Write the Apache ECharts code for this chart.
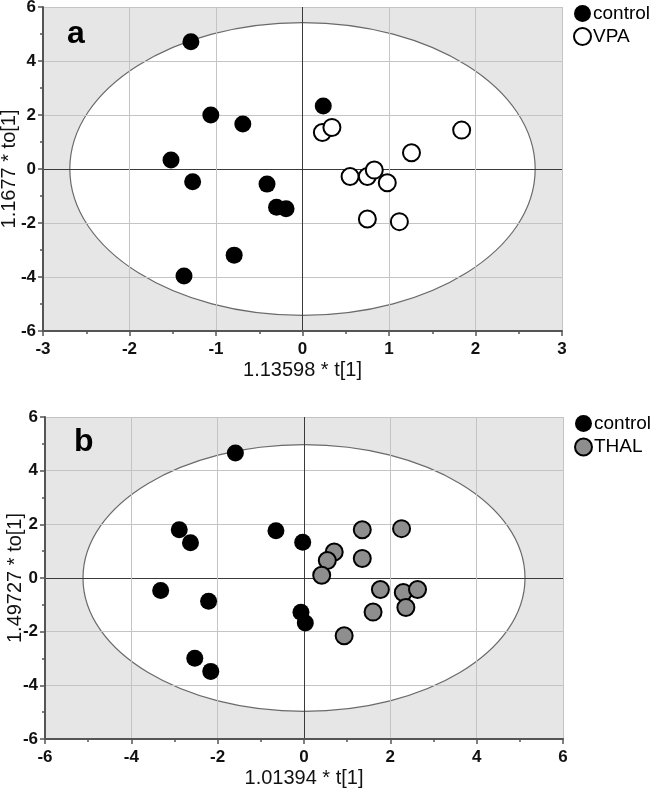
<!DOCTYPE html>
<html>
<head>
<meta charset="utf-8">
<script src="https://cdn.jsdelivr.net/npm/echarts@6/dist/echarts.min.js"></script>
<style>html,body{margin:0;padding:0;background:#fff}#c{width:657px;height:792px}</style>
</head>
<body>
<div id="c"></div>
<script>
// ---- data ----
var controlA = [[-1.29,4.71],[-1.06,2.00],[-0.69,1.67],[-1.52,0.33],[-1.27,-0.47],[-0.41,-0.56],[-0.30,-1.42],[-0.19,-1.47],[-0.79,-3.19],[-1.37,-3.96],[0.24,2.33]];
var vpaA = [[0.23,1.35],[0.34,1.54],[1.84,1.44],[1.26,0.60],[0.55,-0.28],[0.75,-0.28],[0.83,-0.04],[0.98,-0.51],[0.75,-1.85],[1.12,-1.95]];
var controlB = [[-1.59,4.66],[-2.89,1.80],[-2.63,1.31],[-0.65,1.76],[-0.03,1.33],[-3.32,-0.47],[-2.21,-0.87],[-0.07,-1.28],[0.03,-1.68],[-2.53,-2.99],[-2.16,-3.48]];
var thalB = [[1.35,1.80],[2.26,1.84],[0.70,0.97],[0.54,0.65],[1.35,0.73],[0.41,0.10],[1.77,-0.43],[2.30,-0.54],[2.63,-0.43],[1.60,-1.27],[2.36,-1.10],[0.93,-2.15]];
// Hotelling ellipse semi-axes (in axis units)
var ellipseA = [2.69, 5.42];
var ellipseB = [5.12, 4.97];
// axis ranges / ticks
var xTicksA = [-3, 3, 1];
var yTicksA = [-6, 6, 2];
var xTicksB = [-6, 6, 2];
var yTicksB = [-6, 6, 2];
var xNameA = '1.13598 * t[1]', yNameA = '1.1677 * to[1]';
var xNameB = '1.01394 * t[1]', yNameB = '1.49727 * to[1]';

var FONT = '"Liberation Sans", Arial, sans-serif';
function splitColors(t){ // dark line at zero, light elsewhere
  var arr = [];
  for (var v = t[0]; v <= t[1] + 1e-9; v += t[2]) arr.push(Math.abs(v) < 1e-9 ? '#3a3a3a' : '#c4c4c4');
  return arr;
}
function xAxis(idx, t, name, gap){
  return {
    type:'value', gridIndex:idx, min:t[0], max:t[1], interval:t[2],
    name:name, nameLocation:'middle', nameGap:gap, nameMoveOverlap:false,
    nameTextStyle:{fontFamily:FONT, fontSize:20, color:'#111'},
    axisLine:{show:true, onZero:false, lineStyle:{color:'#555', width:2}},
    axisTick:{show:true, length:5, lineStyle:{color:'#555', width:1.5}},
    minorTick:{show:true, splitNumber:2, length:3, lineStyle:{color:'#555', width:1.5}},
    axisLabel:{fontFamily:FONT, fontSize:17, fontWeight:'bold', color:'#111', margin:10},
    splitLine:{show:true, lineStyle:{color:splitColors(t), width:1}}
  };
}
function yAxis(idx, t, name, gap){
  return {
    type:'value', gridIndex:idx, min:t[0], max:t[1], interval:t[2],
    name:name, nameLocation:'middle', nameGap:gap, nameRotate:90, nameMoveOverlap:false,
    nameTextStyle:{fontFamily:FONT, fontSize:20, color:'#111'},
    axisLine:{show:true, onZero:false, lineStyle:{color:'#555', width:2}},
    axisTick:{show:true, length:5, lineStyle:{color:'#555', width:1.5}},
    minorTick:{show:true, splitNumber:2, length:3, lineStyle:{color:'#555', width:1.5}},
    axisLabel:{fontFamily:FONT, fontSize:17, fontWeight:'bold', color:'#111', margin:7},
    splitLine:{show:true, lineStyle:{color:splitColors(t), width:1}}
  };
}
function ellipseSeries(idx, semi){
  return {
    type:'custom', xAxisIndex:idx, yAxisIndex:idx, z:-5, silent:true,
    data:[[0,0]],
    renderItem:function(params, api){
      var cs = params.coordSys;
      var c = api.coord([api.value(0), api.value(1)]);
      var rx = api.size([semi[0], 0])[0];
      var ry = api.size([0, semi[1]])[1];
      return {type:'group', children:[
        {type:'rect', shape:{x:cs.x, y:cs.y, width:cs.width, height:cs.height}, style:{fill:'#e6e6e6'}},
        {type:'ellipse', shape:{cx:c[0], cy:c[1], rx:rx, ry:ry}, style:{fill:'#fff', stroke:'#6a6a6a', lineWidth:1.2}}
      ]};
    }
  };
}
function scatter(idx, name, data, fill){
  return {
    type:'scatter', name:name, xAxisIndex:idx, yAxisIndex:idx, z:3,
    data:data, symbol:'circle', symbolSize:17,
    itemStyle:{color:fill, borderColor:'#000', borderWidth: fill === '#000' ? 0 : 2, opacity:1}
  };
}
var chart = echarts.init(document.getElementById('c'), null, {renderer:'canvas'});
chart.setOption({
  animation:false,
  backgroundColor:'#fff',
  title:[
    {text:'a', left:67, top:18, padding:0, textStyle:{fontFamily:FONT, fontSize:32, fontWeight:'bold', color:'#000'}},
    {text:'b', left:74, top:426, padding:0, textStyle:{fontFamily:FONT, fontSize:32, fontWeight:'bold', color:'#000'}}
  ],
  legend:[
    {orient:'vertical', left:573, top:4, padding:0, itemWidth:17, itemHeight:17, itemGap:4, icon:'circle',
     textStyle:{fontFamily:FONT, fontSize:19, color:'#000', padding:[0,0,0,-3]},
     data:[{name:'control', itemStyle:{color:'#000', borderWidth:0}}, {name:'VPA', itemStyle:{color:'#fff', borderColor:'#000', borderWidth:2}}]},
    {orient:'vertical', left:574, top:414, padding:0, itemWidth:17, itemHeight:17, itemGap:4.5, icon:'circle',
     textStyle:{fontFamily:FONT, fontSize:19, color:'#000', padding:[0,0,0,-3]},
     data:[{name:'control', itemStyle:{color:'#000', borderWidth:0}}, {name:'THAL', itemStyle:{color:'#8e8e8e', borderColor:'#000', borderWidth:2}}]}
  ],
  grid:[
    {left:43, top:7, width:519, height:324, outerBoundsMode:'none', containLabel:false},
    {left:45, top:417, width:518, height:322, outerBoundsMode:'none', containLabel:false}
  ],
  xAxis:[xAxis(0, xTicksA, xNameA, 29), xAxis(1, xTicksB, xNameB, 29)],
  yAxis:[yAxis(0, yTicksA, yNameA, 24), yAxis(1, yTicksB, yNameB, 20)],
  series:[
    ellipseSeries(0, ellipseA),
    ellipseSeries(1, ellipseB),
    scatter(0, 'control', controlA, '#000'),
    scatter(0, 'VPA', vpaA, '#fff'),
    scatter(1, 'control', controlB, '#000'),
    scatter(1, 'THAL', thalB, '#8e8e8e')
  ]
});
</script>
</body>
</html>
